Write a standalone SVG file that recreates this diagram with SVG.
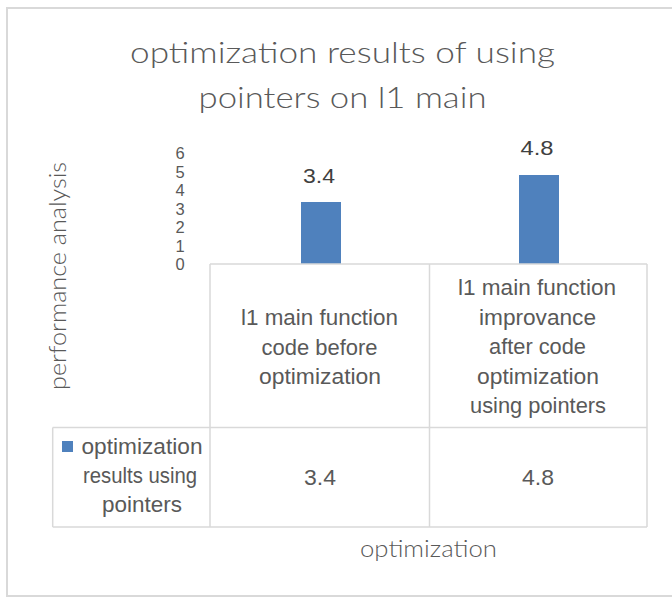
<svg xmlns="http://www.w3.org/2000/svg" width="672" height="597" viewBox="0 0 672 597">
<style>
text{font-family:"Liberation Sans",Arial,sans-serif;fill:#595959}
.title{font-family:Lato,"Liberation Sans",sans-serif;font-weight:300;font-size:30px}
.light{font-family:Lato,"Liberation Sans",sans-serif;font-weight:300;font-size:23px;text-anchor:middle}
.cell{font-size:22px;text-anchor:middle}
.tick{font-size:16.5px;text-anchor:middle}
.dl{font-size:20px;text-anchor:middle;fill:#404040}
.grid{stroke:#d9d9d9;stroke-width:1.5;fill:none}
.bar{fill:#4f81bd}
</style>
<rect x="0" y="0" width="672" height="597" fill="#ffffff"/>
<rect x="7" y="8" width="680" height="588" fill="#ffffff" stroke="#d9d9d9" stroke-width="2"/>
<g id="title">
<text class="title" x="342.5" y="63" text-anchor="middle" textLength="425" lengthAdjust="spacingAndGlyphs">optimization results of using</text>
<text class="title" x="342.5" y="108" text-anchor="middle" textLength="288" lengthAdjust="spacingAndGlyphs">pointers on l1 main</text>
</g>
<g id="y-axis">
<text class="light" transform="translate(66,276) rotate(-90)" x="0" y="0" textLength="228" lengthAdjust="spacingAndGlyphs">performance analysis</text>
<text class="tick" x="180" y="159">6</text>
<text class="tick" x="180" y="177.5">5</text>
<text class="tick" x="180" y="196">4</text>
<text class="tick" x="180" y="214.5">3</text>
<text class="tick" x="180" y="233">2</text>
<text class="tick" x="180" y="251.5">1</text>
<text class="tick" x="180" y="270">0</text>
</g>
<g id="bars">
<rect class="bar" x="301" y="202" width="40" height="62"/>
<rect class="bar" x="519" y="175" width="40" height="89"/>
<text class="dl" x="319" y="183" textLength="32" lengthAdjust="spacingAndGlyphs">3.4</text>
<text class="dl" x="537" y="155" textLength="33" lengthAdjust="spacingAndGlyphs">4.8</text>
</g>
<g id="connectors">
<path class="grid" d="M210,264 H647 M210,264 V527 M429.5,264 V527 M647,264 V527 M52.7,427.5 H647 M52.7,527 H647 M52.7,427.5 V527"/>
</g>
<g id="header-1">
<text class="cell" x="319.5" y="325" textLength="157" lengthAdjust="spacingAndGlyphs">l1 main function</text>
<text class="cell" x="319.5" y="354.5" textLength="116" lengthAdjust="spacingAndGlyphs">code before</text>
<text class="cell" x="320" y="384" textLength="122" lengthAdjust="spacingAndGlyphs">optimization</text>
</g>
<g id="header-2">
<text class="cell" x="537" y="295" textLength="158" lengthAdjust="spacingAndGlyphs">l1 main function</text>
<text class="cell" x="537.5" y="324.5" textLength="117" lengthAdjust="spacingAndGlyphs">improvance</text>
<text class="cell" x="537.5" y="354" textLength="97" lengthAdjust="spacingAndGlyphs">after code</text>
<text class="cell" x="538" y="383.5" textLength="122" lengthAdjust="spacingAndGlyphs">optimization</text>
<text class="cell" x="538" y="413" textLength="136" lengthAdjust="spacingAndGlyphs">using pointers</text>
</g>
<g id="legend">
<rect class="bar" x="62" y="441" width="11" height="11"/>
<text class="cell" x="142" y="454" textLength="121" lengthAdjust="spacingAndGlyphs">optimization</text>
<text class="cell" x="140" y="483" textLength="114" lengthAdjust="spacingAndGlyphs">results using</text>
<text class="cell" x="142" y="512" textLength="80" lengthAdjust="spacingAndGlyphs">pointers</text>
</g>
<g id="values">
<text class="cell" x="320" y="485" textLength="32" lengthAdjust="spacingAndGlyphs">3.4</text>
<text class="cell" x="538" y="485" textLength="32" lengthAdjust="spacingAndGlyphs">4.8</text>
</g>
<g id="x-axis">
<text class="light" x="428.5" y="557" textLength="137" lengthAdjust="spacingAndGlyphs">optimization</text>
</g>
</svg>
